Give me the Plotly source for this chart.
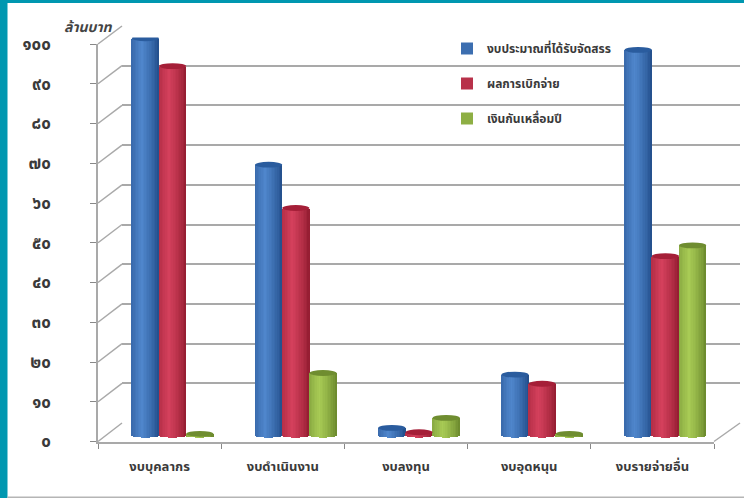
import plotly.graph_objects as go

categories = ["งบบุคลากร", "งบดำเนินงาน", "งบลงทุน", "งบอุดหนุน", "งบรายจ่ายอื่น"]
allocated = [99.8, 68.0, 1.8, 15.2, 96.9]
disbursed = [92.8, 57.1, 0.7, 12.9, 45.0]
carryover = [0.3, 15.6, 4.3, 0.3, 47.7]
series_names = ["งบประมาณที่ได้รับจัดสรร", "ผลการเบิกจ่าย", "เงินกันเหลื่อมปี"]
tick_values = [0, 10, 20, 30, 40, 50, 60, 70, 80, 90, 100]
tick_labels = ["๐", "๑๐", "๒๐", "๓๐", "๔๐", "๕๐", "๖๐", "๗๐", "๘๐", "๙๐", "๑๐๐"]
unit_label = "ล้านบาท"

W, H = 744, 498
FONT = "Noto Sans Thai, Noto Sans, DejaVu Sans, sans-serif"
GRID = "#a9a9a9"
TEXT = "#3a3a3a"


def hex2rgb(c):
    return tuple(int(c[i:i + 2], 16) for i in (1, 3, 5))


def mix(a, b, t):
    a, b = hex2rgb(a), hex2rgb(b)
    return "#%02x%02x%02x" % tuple(round(a[i] + (b[i] - a[i]) * t) for i in range(3))


def dom_x(a, b):
    return [a / W, b / W]


def dom_y(top, bottom):
    return [1 - bottom / H, 1 - top / H]


fig = go.Figure()

# back wall (first subplot, so it lies under the bars)
fig.add_trace(go.Scatter(x=[0, 1], y=[0, 100], xaxis="x", yaxis="y", mode="markers",
                         marker=dict(opacity=0), showlegend=False, hoverinfo="skip"))

# cylinders, each made of thin vertical slices
palette = [
    ("#1f4a86", "#4f86cc", "#2a5c9e"),
    ("#8f1a2e", "#d4405c", "#a51f38"),
    ("#66842a", "#a8cb55", "#6f8d30"),
]
SLICES = 17
BAR_W = 27.2 / 123.2
R = 1.05
xs = list(range(len(categories)))
all_values = [allocated, disbursed, carryover]
for s, values in enumerate(all_values):
    dark, light, cap = palette[s]
    x_left = -1.5 * BAR_W + s * BAR_W
    for k in range(SLICES):
        t = (k + 0.5) / SLICES
        u = 2 * t - 1
        shade = max(0.0, 1 - abs(t - 0.38) / 0.62) ** 0.7
        bottom = -0.5 * R * (1 - u * u) ** 0.5
        fig.add_trace(go.Bar(
            x=xs, y=[v - bottom for v in values], base=bottom,
            width=BAR_W / SLICES * 1.06, offset=x_left + k * BAR_W / SLICES,
            marker=dict(color=mix(dark, light, shade), line_width=0),
            xaxis="x2", yaxis="y2", showlegend=False, hoverinfo="skip"))
    # legend entry
    fig.add_trace(go.Bar(x=[None], y=[None], name=series_names[s], xaxis="x2", yaxis="y2",
                         marker=dict(color=mix(dark, light, 0.6), line_width=0),
                         legendgroup=str(s)))
    # cap on top of each cylinder
    for i, v in enumerate(values):
        fig.add_shape(type="circle", xref="x2", yref="y2",
                      x0=i + x_left, x1=i + x_left + BAR_W, y0=v - R * 0.7, y1=v + R * 0.7,
                      fillcolor=cap, line_width=0, layer="above")

# front frame carrying ticks and labels
fig.add_trace(go.Scatter(x=categories, y=[0] * 5, xaxis="x3", yaxis="y3", mode="markers",
                         marker=dict(opacity=0), showlegend=False, hoverinfo="skip"))

# geometry in page pixels
FX0, FX1, FY0, FY100 = 98, 714, 441.5, 44
WX0, WX1, WY0, WY100 = 122, 740, 423, 26
BX0, BX1, BY0, BY100 = 111, 727, 435, 37.5


def py(v, y0, y100):
    return y0 + (y100 - y0) * v / 100


# depth lines joining the front ticks to the wall
for v in tick_values:
    fig.add_shape(type="line", xref="paper", yref="paper", layer="below",
                  x0=FX0 / W, x1=WX0 / W,
                  y0=1 - py(v, FY0, FY100) / H, y1=1 - py(v, WY0, WY100) / H,
                  line=dict(color=GRID, width=1.5))
fig.add_shape(type="line", xref="paper", yref="paper", layer="below",
              x0=FX1 / W, x1=WX1 / W, y0=1 - FY0 / H, y1=1 - WY0 / H,
              line=dict(color=GRID, width=1.5))

# page frame
fig.add_shape(type="rect", xref="paper", yref="paper", x0=0, x1=7.5 / W, y0=0, y1=1,
              fillcolor="#0097b0", line_width=0, layer="below")
fig.add_shape(type="rect", xref="paper", yref="paper", x0=0, x1=1, y0=1 - 3 / H, y1=1,
              fillcolor="#0097b0", line_width=0, layer="below")
fig.add_shape(type="rect", xref="paper", yref="paper", x0=7.5 / W, x1=1, y0=0, y1=1.5 / H,
              fillcolor="#b5b5b5", line_width=0, layer="below")

fig.add_annotation(text="<b><i>" + unit_label + "</i></b>", xref="paper", yref="paper",
                   x=88 / W, y=1 - 27 / H, showarrow=False, xanchor="center", yanchor="middle",
                   font=dict(family=FONT, size=14, color="#444444"))

fig.update_layout(
    width=W, height=H, margin=dict(l=0, r=0, t=0, b=0, pad=0, autoexpand=False),
    paper_bgcolor="white", plot_bgcolor="rgba(0,0,0,0)",
    barmode="overlay", bargap=0,
    font=dict(family=FONT, color=TEXT),
    xaxis=dict(domain=dom_x(WX0, WX1), range=[0, 1], visible=False, anchor="y", fixedrange=True),
    yaxis=dict(domain=dom_y(WY100, WY0), range=[0, 100], anchor="x", tickvals=tick_values,
               showgrid=True, gridcolor=GRID, gridwidth=2, showticklabels=False, ticks="",
               zeroline=False, showline=False),
    xaxis2=dict(domain=dom_x(BX0, BX1), range=[-0.5, 4.5], visible=False, anchor="y2"),
    yaxis2=dict(domain=dom_y(BY100, BY0 + 8), range=[-8 * 100 / (BY0 - BY100), 100], visible=False,
                anchor="x2"),
    xaxis3=dict(domain=dom_x(FX0, FX1), type="category", categoryorder="array",
                categoryarray=categories, range=[-0.5, 4.5], tickson="boundaries", ticks="outside",
                ticklen=5, tickcolor="#888888", showline=True, linecolor=GRID, linewidth=2,
                showgrid=False, anchor="y3", ticklabelstandoff=12, zeroline=False,
                tickfont=dict(family=FONT, size=13, color=TEXT, weight="bold")),
    yaxis3=dict(domain=dom_y(FY100, FY0), range=[0, 100], tickvals=tick_values, ticktext=tick_labels,
                ticks="outside", ticklen=6, tickcolor="#888888", showline=True, linecolor=GRID,
                linewidth=1.5, showgrid=False, zeroline=False, anchor="x3", ticklabelstandoff=36,
                tickfont=dict(family=FONT, size=17, color=TEXT, weight="bold")),
    showlegend=True,
    legend=dict(x=447 / W, y=1 - 34 / H, xanchor="left", yanchor="top", bgcolor="rgba(0,0,0,0)",
                font=dict(family=FONT, size=12, color=TEXT, weight="bold"), tracegroupgap=16,
                traceorder="grouped", itemclick=False, itemdoubleclick=False),
)

fig.write_html("out.html", config=dict(displayModeBar=False),
               post_script="document.body.style.margin='0';document.body.style.overflow='hidden';")
